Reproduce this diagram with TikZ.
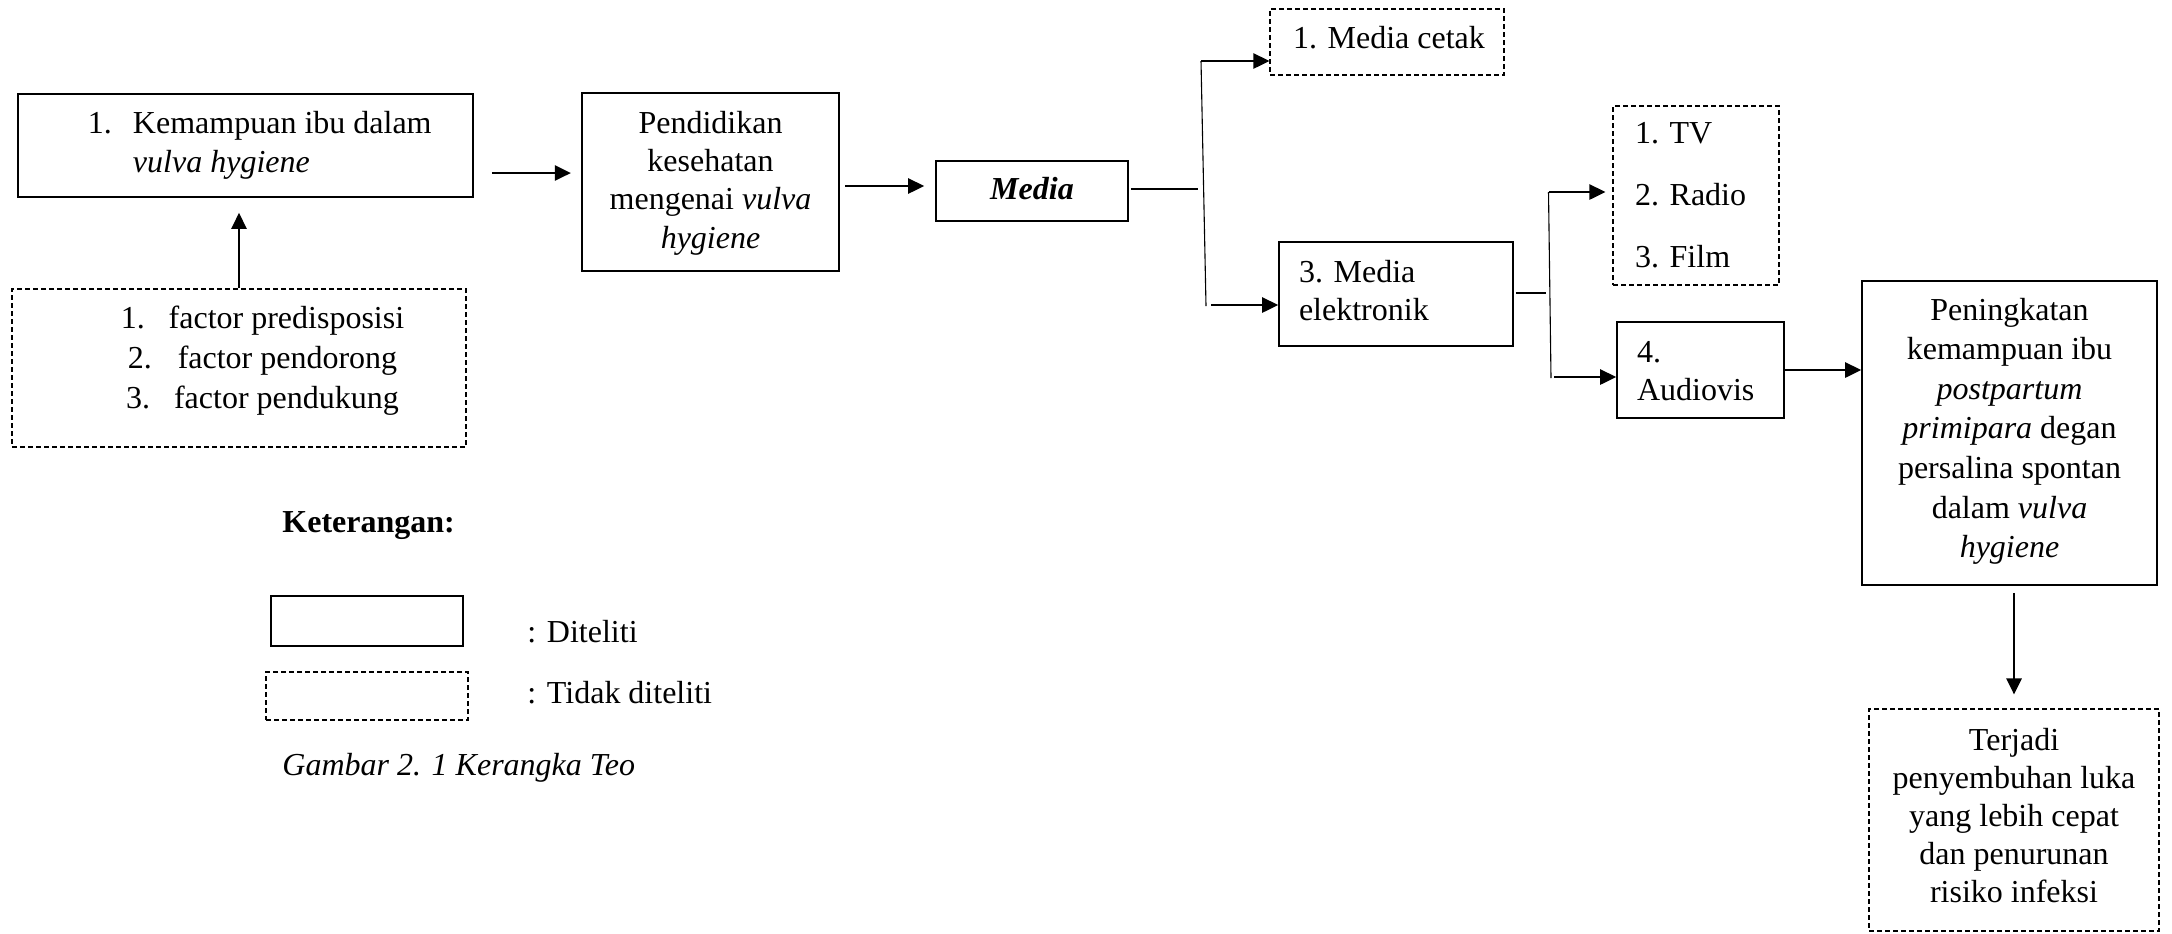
\documentclass[tikz,border=0pt]{standalone}
\usepackage{fontspec}
\setmainfont{Liberation Serif}
\usetikzlibrary{arrows.meta}
\newlength\pxu
\setlength\pxu{0.5pt}
\newcommand\bxt[6]{\parbox[c][#1\pxu][t]{#2\pxu}{\fontsize{16pt}{#4}\selectfont#5\vspace*{\dimexpr#3\pxu-0.7\baselineskip\relax}\strut#6}}
\tikzset{
  solidbox/.style={draw, line width=0.8pt, inner sep=0pt, rectangle},
  dashbox/.style={draw, line width=0.55pt, dash pattern=on 2.5pt off 1.5pt, inner sep=0pt, rectangle},
  arr/.style={line width=1.3pt, -{Triangle[length=8pt,width=7.5pt]}},
  thinline/.style={line width=0.55pt},
  lbl/.style={anchor=base west, inner sep=0pt, font=\fontsize{16pt}{19.5pt}\selectfont},
}
\begin{document}
\begin{tikzpicture}[x=0.5pt, y=-0.5pt]
\useasboundingbox (0,0) rectangle (2172,933);

% boxes
\node[solidbox] (kem) at (245.5,145.5) {\bxt{103}{455}{39}{19.5pt}{\raggedright}{\hspace*{70\pxu}\makebox[45\pxu][l]{1.}Kemampuan ibu dalam\\\hspace*{115\pxu}\textit{vulva hygiene}}};
\node[dashbox] (fac) at (239,368) {\bxt{158}{454}{39}{20pt}{\centering}{\hspace*{47\pxu}1.\hspace{24\pxu}factor predisposisi\\\hspace*{47\pxu}2.\hspace{26\pxu}factor pendorong\\\hspace*{47\pxu}3.\hspace{24\pxu}factor pendukung}};
\node[solidbox, line width=1.1pt] (pend) at (710.5,182) {\bxt{178}{257}{40}{19.2pt}{\centering}{Pendidikan\\kesehatan\\mengenai \textit{vulva}\\\textit{hygiene}}};
\node[solidbox] (media) at (1032,191) {\bxt{60}{192}{38}{19.5pt}{\centering}{\textbf{\textit{Media}}}};
\node[dashbox] (cetak) at (1387,42) {\bxt{66}{234}{39}{19.5pt}{\raggedright}{\hspace*{23\pxu}1. Media cetak}};
\node[solidbox] (elek) at (1396,294) {\bxt{104}{234}{40}{19pt}{\raggedright}{\hspace*{20\pxu}3. Media\\\hspace*{20\pxu}elektronik}};
\node[dashbox] (tv) at (1696,195.5) {\bxt{179}{166}{37}{31pt}{\raggedright}{\hspace*{22\pxu}1. TV\\\hspace*{22\pxu}2. Radio\\\hspace*{22\pxu}3. Film}};
\node[solidbox] (audio) at (1700.5,370) {\bxt{96}{167}{40}{19pt}{\raggedright}{\hspace*{20\pxu}4.\\\hspace*{20\pxu}Audiovis}};
\node[solidbox] (pen) at (2009.5,433) {\bxt{304}{295}{39}{19.83pt}{\centering}{Peningkatan\\kemampuan ibu\\\textit{postpartum}\\\textit{primipara} degan\\persalina spontan\\dalam \textit{vulva}\\\textit{hygiene}}};
\node[dashbox] (ter) at (2014,820) {\bxt{222}{290}{41}{19pt}{\centering}{Terjadi\\penyembuhan luka\\yang lebih cepat\\dan penurunan\\risiko infeksi}};

% legend
\node[lbl, font=\fontsize{16pt}{19.5pt}\selectfont\bfseries] (ket) at (282,532) {Keterangan:};
\node[solidbox, minimum width=96pt, minimum height=25pt] (leg1) at (367,621) {};
\node[dashbox, minimum width=101pt, minimum height=24pt] (leg2) at (367,696) {};
\node[lbl] (dit) at (527,642) {: Diteliti};
\node[lbl] (tdit) at (527,703) {: Tidak diteliti};
\node[lbl, font=\fontsize{16pt}{19.5pt}\selectfont\itshape] (cap) at (282,775) {Gambar 2. 1 Kerangka Teo};

% connectors
\draw[arr] ([shift={(18,27.5)}]kem.east) -- ([shift={(-10,-9)}]pend.west);
\draw[arr, shorten >=7.5pt] (fac.north) -- (fac.north |- kem.south);
\draw[arr] ([shift={(5,4)}]pend.east) -- ([shift={(-11,-5)}]media.west);

\coordinate (m1) at (1198,189);
\coordinate (b1t) at (1201,61);
\coordinate (b1b) at (1206,306);
\coordinate (b1s) at (1211,305);
\draw[thinline] ([shift={(2,-2)}]media.east) -- (m1);
\draw[thinline] (b1t) -- (b1b);
\draw[arr] (b1t) -- (b1t -| cetak.west);
\draw[arr] (b1s) -- (b1s -| elek.west);

\coordinate (m2) at (1546,293);
\coordinate (b2t) at (1548.5,192);
\coordinate (b2b) at (1551,378);
\coordinate (b2s) at (1554,377);
\draw[thinline] ([shift={(2,-1)}]elek.east) -- (m2);
\draw[thinline] (b2t) -- (b2b);
\draw[arr, shorten >=3.5pt] (b2t) -- (b2t -| tv.west);
\draw[arr] (b2s) -- (b2s -| audio.west);

\draw[arr] (audio.east) -- (audio.east -| pen.west);
\draw[arr, shorten <=3.5pt, shorten >=7pt] (ter.north |- pen.south) -- (ter.north);
\end{tikzpicture}
\end{document}
